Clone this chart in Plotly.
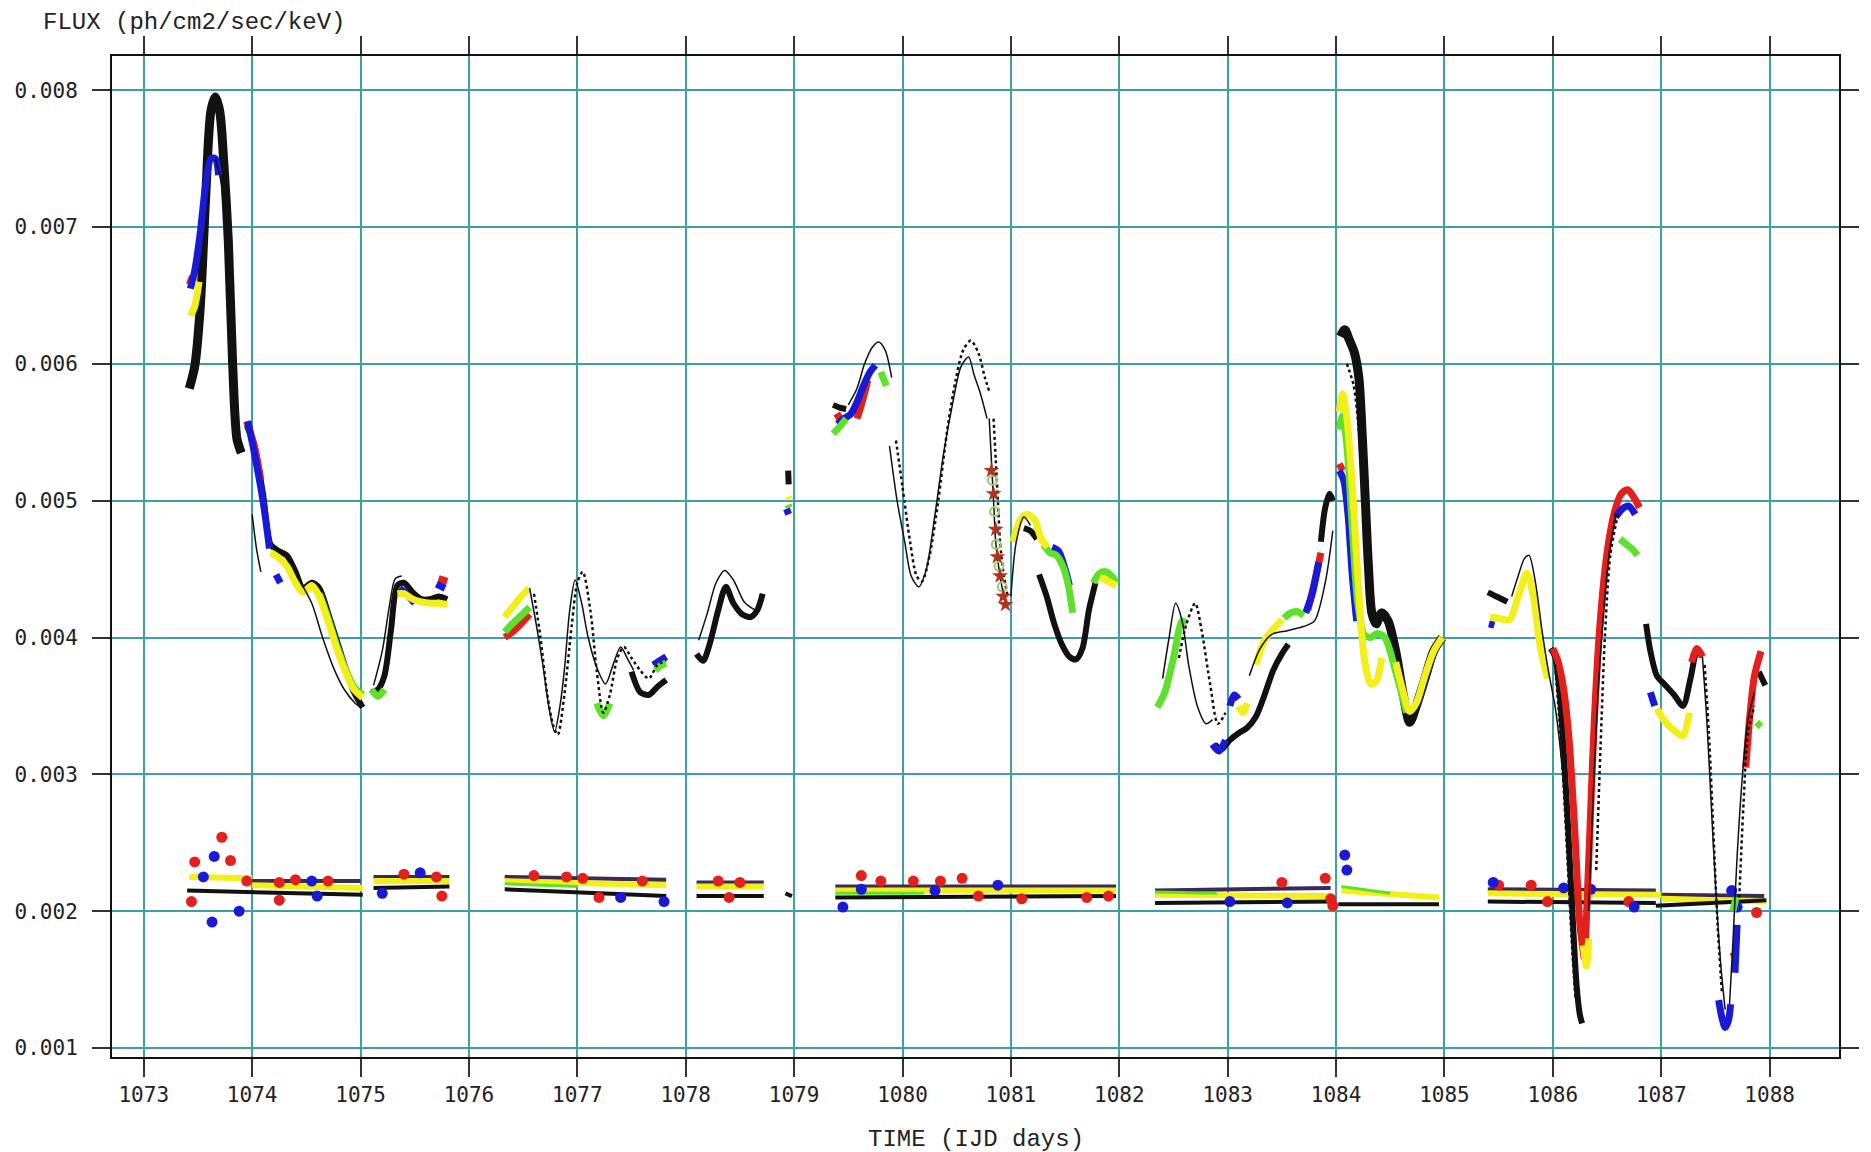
import plotly.graph_objects as go

# ---------------- axes ----------------
x_ticks = list(range(1073, 1089))
y_ticks = [0.001, 0.002, 0.003, 0.004, 0.005, 0.006, 0.007, 0.008]
y_tick_text = ["0.001", "0.002", "0.003", "0.004", "0.005", "0.006", "0.007", "0.008"]
x_range = [1072.707, 1088.64]
y_range = [0.000934, 0.00825]

# ---------------- upper light-curve tracks (time [IJD], flux) ----------------
black_peak_tracks = [
    [(1073.42, 0.00582), (1073.47, 0.00598), (1073.52, 0.00640), (1073.57, 0.00720), (1073.62, 0.00785),
     (1073.66, 0.00795), (1073.70, 0.00785), (1073.74, 0.00745), (1073.78, 0.00690), (1073.82, 0.00600),
     (1073.86, 0.00545), (1073.90, 0.00535)],
    [(1084.04, 0.00620), (1084.08, 0.00625), (1084.12, 0.00618), (1084.17, 0.00608), (1084.21, 0.00590),
     (1084.24, 0.00550), (1084.27, 0.00500), (1084.30, 0.00450), (1084.33, 0.00418), (1084.37, 0.00410),
     (1084.42, 0.00418), (1084.48, 0.00412), (1084.55, 0.00390), (1084.62, 0.00358), (1084.68, 0.00338),
     (1084.74, 0.00350), (1084.82, 0.00370), (1084.90, 0.00390), (1084.98, 0.00400)],
]

black_tracks = [
    [(1073.95, 0.00555), (1074.02, 0.00540), (1074.10, 0.00505), (1074.17, 0.00468), (1074.25, 0.00463),
     (1074.32, 0.00460), (1074.40, 0.00448), (1074.47, 0.00436), (1074.55, 0.00440), (1074.62, 0.00436),
     (1074.70, 0.00418), (1074.78, 0.00398), (1074.86, 0.00378), (1074.94, 0.00360), (1075.02, 0.00349)],
    [(1075.10, 0.00360), (1075.16, 0.00362), (1075.22, 0.00372), (1075.28, 0.00405), (1075.34, 0.00438),
     (1075.40, 0.00440), (1075.48, 0.00433), (1075.56, 0.00428), (1075.64, 0.00428), (1075.72, 0.00430),
     (1075.80, 0.00428)],
    [(1077.50, 0.00375), (1077.58, 0.00360), (1077.66, 0.00358), (1077.74, 0.00364), (1077.82, 0.00369)],
    [(1078.10, 0.00388), (1078.16, 0.00383), (1078.22, 0.00395), (1078.30, 0.00420), (1078.37, 0.00437),
     (1078.44, 0.00425), (1078.52, 0.00417), (1078.60, 0.00415), (1078.66, 0.00420), (1078.71, 0.00432)],
    [(1078.945, 0.00522), (1078.95, 0.00512)],
    [(1079.36, 0.00570), (1079.42, 0.00568), (1079.48, 0.00567)],
    [(1081.12, 0.00480), (1081.18, 0.00478), (1081.24, 0.00472)],
    [(1081.26, 0.00446), (1081.33, 0.00430), (1081.40, 0.00410), (1081.47, 0.00395), (1081.54, 0.00386),
     (1081.60, 0.00384), (1081.66, 0.00392), (1081.72, 0.00420), (1081.78, 0.00440)],
    [(1082.88, 0.00322), (1082.94, 0.00318), (1083.02, 0.00325), (1083.10, 0.00330), (1083.18, 0.00334),
     (1083.26, 0.00342), (1083.34, 0.00358), (1083.42, 0.00376), (1083.50, 0.00388), (1083.56, 0.00395)],
    [(1083.86, 0.00470), (1083.90, 0.00495), (1083.94, 0.00505), (1083.97, 0.00500)],
    [(1085.40, 0.00433), (1085.48, 0.00430), (1085.58, 0.00426)],
    [(1085.98, 0.00392), (1086.02, 0.00386), (1086.06, 0.00362), (1086.10, 0.00318), (1086.14, 0.00262),
     (1086.18, 0.00200), (1086.22, 0.00145), (1086.25, 0.00124), (1086.27, 0.00118)],
    [(1086.86, 0.00410), (1086.90, 0.00390), (1086.96, 0.00372), (1087.04, 0.00365), (1087.12, 0.00358),
     (1087.20, 0.00350), (1087.27, 0.00370), (1087.33, 0.00390), (1087.38, 0.00386)],
    [(1087.90, 0.00375), (1087.96, 0.00365)],
]

red_tracks = [
    [(1073.42, 0.00658), (1073.45, 0.00664)],
    [(1073.95, 0.00558), (1074.02, 0.00540), (1074.08, 0.00515)],
    [(1075.72, 0.00443), (1075.80, 0.00441)],
    [(1076.33, 0.00400), (1076.40, 0.00404), (1076.48, 0.00410), (1076.56, 0.00417)],
    [(1079.38, 0.00560), (1079.44, 0.00563)],
    [(1079.58, 0.00560), (1079.62, 0.00570), (1079.68, 0.00588)],
    [(1083.74, 0.00420), (1083.80, 0.00440), (1083.86, 0.00462)],
    [(1084.03, 0.00527), (1084.06, 0.00522)],
    [(1086.00, 0.00392), (1086.05, 0.00382), (1086.10, 0.00362), (1086.15, 0.00325), (1086.20, 0.00262),
     (1086.25, 0.00190), (1086.29, 0.00165)],
    [(1086.30, 0.00175), (1086.34, 0.00255), (1086.38, 0.00335), (1086.43, 0.00405), (1086.50, 0.00462),
     (1086.57, 0.00492), (1086.63, 0.00505), (1086.69, 0.00508), (1086.75, 0.00502), (1086.80, 0.00495)],
    [(1087.28, 0.00382), (1087.33, 0.00392), (1087.38, 0.00386)],
    [(1087.66, 0.00170), (1087.69, 0.00165)],
    [(1087.78, 0.00305), (1087.82, 0.00345), (1087.86, 0.00372), (1087.92, 0.00390)],
]

blue_tracks = [
    [(1073.43, 0.00655), (1073.47, 0.00668), (1073.52, 0.00695), (1073.57, 0.00730), (1073.62, 0.00750),
     (1073.66, 0.00750), (1073.69, 0.00738)],
    [(1073.96, 0.00558), (1074.02, 0.00535), (1074.10, 0.00500), (1074.16, 0.00465)],
    [(1074.22, 0.00446), (1074.26, 0.00440)],
    [(1075.36, 0.00436), (1075.42, 0.00432), (1075.50, 0.00425)],
    [(1075.70, 0.00439), (1075.78, 0.00436)],
    [(1077.70, 0.00380), (1077.76, 0.00383), (1077.82, 0.00386)],
    [(1078.93, 0.00494), (1078.95, 0.00490)],
    [(1079.40, 0.00556), (1079.46, 0.00560), (1079.52, 0.00563), (1079.58, 0.00572), (1079.64, 0.00584),
     (1079.70, 0.00594), (1079.75, 0.00599)],
    [(1081.38, 0.00466), (1081.44, 0.00463), (1081.50, 0.00450), (1081.54, 0.00438)],
    [(1082.86, 0.00322), (1082.92, 0.00317), (1082.98, 0.00325)],
    [(1083.02, 0.00350), (1083.06, 0.00358), (1083.10, 0.00355)],
    [(1083.72, 0.00418), (1083.78, 0.00432), (1083.84, 0.00455)],
    [(1084.03, 0.00522), (1084.07, 0.00515), (1084.11, 0.00490), (1084.15, 0.00445), (1084.19, 0.00412)],
    [(1085.41, 0.00410), (1085.46, 0.00409)],
    [(1086.58, 0.00488), (1086.64, 0.00494), (1086.70, 0.00496), (1086.76, 0.00490)],
    [(1086.90, 0.00360), (1086.94, 0.00350)],
    [(1087.53, 0.00135), (1087.56, 0.00122), (1087.59, 0.00115), (1087.62, 0.00120), (1087.64, 0.00132)],
    [(1087.68, 0.00155), (1087.70, 0.00190)],
]

green_tracks = [
    [(1074.62, 0.00432), (1074.70, 0.00414), (1074.78, 0.00394), (1074.86, 0.00377), (1074.94, 0.00364),
     (1075.02, 0.00358)],
    [(1075.10, 0.00362), (1075.16, 0.00357), (1075.22, 0.00362)],
    [(1076.33, 0.00404), (1076.40, 0.00410), (1076.48, 0.00416), (1076.56, 0.00422)],
    [(1077.18, 0.00352), (1077.24, 0.00343), (1077.30, 0.00352)],
    [(1077.72, 0.00376), (1077.78, 0.00380), (1077.82, 0.00381)],
    [(1078.945, 0.00497), (1078.955, 0.00495)],
    [(1079.36, 0.00549), (1079.42, 0.00554), (1079.48, 0.00560)],
    [(1079.80, 0.00594), (1079.85, 0.00584)],
    [(1081.30, 0.00468), (1081.36, 0.00462), (1081.42, 0.00460), (1081.48, 0.00452), (1081.53, 0.00438),
     (1081.57, 0.00418)],
    [(1081.76, 0.00440), (1081.82, 0.00447), (1081.88, 0.00448), (1081.94, 0.00444), (1081.97, 0.00440)],
    [(1082.35, 0.00349), (1082.42, 0.00360), (1082.50, 0.00385), (1082.58, 0.00412), (1082.62, 0.00410)],
    [(1083.52, 0.00414), (1083.58, 0.00418), (1083.64, 0.00419), (1083.70, 0.00416)],
    [(1084.03, 0.00552), (1084.06, 0.00562), (1084.10, 0.00540), (1084.15, 0.00480), (1084.20, 0.00425),
     (1084.26, 0.00402), (1084.32, 0.00400), (1084.38, 0.00403), (1084.45, 0.00400), (1084.55, 0.00375),
     (1084.65, 0.00345)],
    [(1086.62, 0.00472), (1086.68, 0.00468), (1086.74, 0.00464), (1086.78, 0.00460)],
    [(1087.66, 0.00200), (1087.69, 0.00210)],
    [(1087.88, 0.00338), (1087.92, 0.00335)],
]

yellow_tracks = [
    [(1073.43, 0.00635), (1073.47, 0.00642), (1073.51, 0.00660)],
    [(1074.17, 0.00462), (1074.25, 0.00458), (1074.32, 0.00452), (1074.40, 0.00440), (1074.47, 0.00433),
     (1074.55, 0.00438), (1074.62, 0.00430), (1074.70, 0.00412), (1074.78, 0.00392), (1074.86, 0.00375),
     (1074.94, 0.00362), (1075.02, 0.00356)],
    [(1075.34, 0.00432), (1075.40, 0.00432), (1075.48, 0.00428), (1075.56, 0.00426), (1075.64, 0.00425),
     (1075.72, 0.00425), (1075.80, 0.00424)],
    [(1076.33, 0.00415), (1076.40, 0.00422), (1076.48, 0.00430), (1076.56, 0.00436)],
    [(1078.945, 0.00503), (1078.955, 0.00501)],
    [(1081.02, 0.00470), (1081.08, 0.00485), (1081.15, 0.00490), (1081.22, 0.00486), (1081.28, 0.00472),
     (1081.34, 0.00466)],
    [(1081.82, 0.00444), (1081.90, 0.00441), (1081.97, 0.00438)],
    [(1083.26, 0.00380), (1083.34, 0.00398), (1083.42, 0.00406), (1083.50, 0.00413)],
    [(1083.10, 0.00350), (1083.14, 0.00345), (1083.18, 0.00352)],
    [(1084.03, 0.00565), (1084.06, 0.00578), (1084.10, 0.00560), (1084.15, 0.00510), (1084.20, 0.00445),
     (1084.26, 0.00385), (1084.32, 0.00366), (1084.37, 0.00368), (1084.42, 0.00385)],
    [(1084.55, 0.00382), (1084.62, 0.00360), (1084.68, 0.00346), (1084.74, 0.00352), (1084.82, 0.00372),
     (1084.90, 0.00390), (1084.98, 0.00400)],
    [(1085.42, 0.00415), (1085.50, 0.00414), (1085.60, 0.00413), (1085.68, 0.00430), (1085.76, 0.00447),
     (1085.82, 0.00430), (1085.88, 0.00395), (1085.95, 0.00370)],
    [(1086.28, 0.00175), (1086.31, 0.00160), (1086.33, 0.00180)],
    [(1086.96, 0.00348), (1087.04, 0.00338), (1087.12, 0.00332), (1087.20, 0.00328), (1087.26, 0.00345)],
]

# thin model curves (two time-shifted realisations)
model_a = [
    [(1073.66, 0.00750), (1073.72, 0.00730), (1073.77, 0.00680), (1073.80, 0.00620), (1073.84, 0.00570),
     (1073.87, 0.00540)],
    [(1074.00, 0.00490), (1074.04, 0.00465), (1074.08, 0.00448)],
    [(1074.45, 0.00440), (1074.55, 0.00425), (1074.65, 0.00400), (1074.75, 0.00378), (1074.85, 0.00362),
     (1074.95, 0.00352), (1075.00, 0.00349)],
    [(1075.12, 0.00365), (1075.20, 0.00390), (1075.27, 0.00425), (1075.32, 0.00443), (1075.38, 0.00445)],
    [(1076.56, 0.00436), (1076.62, 0.00410), (1076.68, 0.00381), (1076.74, 0.00348), (1076.79, 0.00331),
     (1076.84, 0.00350), (1076.88, 0.00376), (1076.93, 0.00420), (1076.98, 0.00442), (1077.04, 0.00425),
     (1077.10, 0.00400), (1077.18, 0.00378), (1077.26, 0.00366), (1077.33, 0.00380), (1077.40, 0.00393),
     (1077.46, 0.00385), (1077.52, 0.00376)],
    [(1078.12, 0.00398), (1078.20, 0.00418), (1078.28, 0.00440), (1078.36, 0.00449), (1078.44, 0.00442),
     (1078.54, 0.00426), (1078.64, 0.00420)],
    [(1079.50, 0.00570), (1079.58, 0.00582), (1079.65, 0.00600), (1079.72, 0.00612), (1079.78, 0.00616),
     (1079.84, 0.00610), (1079.90, 0.00590)],
    [(1079.88, 0.00540), (1079.95, 0.00500), (1080.02, 0.00470), (1080.08, 0.00445), (1080.15, 0.00437),
     (1080.22, 0.00450), (1080.30, 0.00490), (1080.38, 0.00535), (1080.46, 0.00570), (1080.54, 0.00598),
     (1080.61, 0.00605), (1080.66, 0.00592), (1080.72, 0.00578), (1080.78, 0.00560)],
    [(1080.80, 0.00560), (1080.82, 0.00530), (1080.84, 0.00500), (1080.86, 0.00470), (1080.89, 0.00450),
     (1080.93, 0.00432), (1080.96, 0.00422)],
    [(1081.00, 0.00430), (1081.05, 0.00470), (1081.12, 0.00488), (1081.18, 0.00482)],
    [(1082.40, 0.00370), (1082.46, 0.00400), (1082.52, 0.00425), (1082.58, 0.00412), (1082.64, 0.00380),
     (1082.72, 0.00350), (1082.80, 0.00337), (1082.86, 0.00340)],
    [(1083.20, 0.00372), (1083.30, 0.00392), (1083.40, 0.00402), (1083.55, 0.00405), (1083.70, 0.00408),
     (1083.80, 0.00412), (1083.90, 0.00440), (1083.97, 0.00478)],
    [(1085.62, 0.00430), (1085.68, 0.00445), (1085.74, 0.00458), (1085.78, 0.00460), (1085.84, 0.00440),
     (1085.90, 0.00405), (1085.96, 0.00375), (1086.02, 0.00350), (1086.08, 0.00310), (1086.13, 0.00262),
     (1086.18, 0.00200), (1086.22, 0.00150)],
    [(1086.33, 0.00200), (1086.37, 0.00280), (1086.41, 0.00350), (1086.46, 0.00410), (1086.52, 0.00462),
     (1086.58, 0.00490)],
    [(1087.38, 0.00386), (1087.42, 0.00340), (1087.46, 0.00280), (1087.50, 0.00220), (1087.55, 0.00160),
     (1087.59, 0.00128)],
    [(1087.63, 0.00132), (1087.66, 0.00175), (1087.70, 0.00240), (1087.75, 0.00300), (1087.80, 0.00340),
     (1087.86, 0.00360)],
]

model_b = [
    [(1076.60, 0.00432), (1076.66, 0.00400), (1076.72, 0.00360), (1076.78, 0.00335), (1076.82, 0.00329),
     (1076.88, 0.00358), (1076.95, 0.00410), (1077.00, 0.00440), (1077.05, 0.00448), (1077.12, 0.00420),
     (1077.18, 0.00375), (1077.24, 0.00345), (1077.30, 0.00358), (1077.37, 0.00385), (1077.43, 0.00393),
     (1077.50, 0.00385), (1077.58, 0.00376), (1077.66, 0.00370), (1077.74, 0.00380), (1077.82, 0.00383)],
    [(1079.94, 0.00544), (1080.00, 0.00510), (1080.07, 0.00470), (1080.13, 0.00445), (1080.18, 0.00441),
     (1080.25, 0.00460), (1080.33, 0.00500), (1080.41, 0.00550), (1080.49, 0.00588), (1080.56, 0.00610),
     (1080.63, 0.00617), (1080.70, 0.00608), (1080.76, 0.00590), (1080.80, 0.00580)],
    [(1080.84, 0.00560), (1080.86, 0.00530), (1080.88, 0.00500), (1080.90, 0.00470), (1080.93, 0.00448),
     (1080.97, 0.00430)],
    [(1082.55, 0.00385), (1082.62, 0.00410), (1082.70, 0.00425), (1082.76, 0.00405), (1082.84, 0.00365),
     (1082.91, 0.00337), (1082.98, 0.00345)],
    [(1084.10, 0.00600), (1084.16, 0.00585), (1084.20, 0.00560), (1084.24, 0.00515), (1084.28, 0.00460),
     (1084.32, 0.00420)],
    [(1086.02, 0.00380), (1086.06, 0.00340), (1086.10, 0.00290), (1086.14, 0.00230), (1086.18, 0.00170),
     (1086.21, 0.00135)],
    [(1086.40, 0.00230), (1086.44, 0.00320), (1086.48, 0.00400), (1086.53, 0.00460), (1086.60, 0.00490)],
    [(1087.40, 0.00380), (1087.44, 0.00330), (1087.48, 0.00260), (1087.52, 0.00190), (1087.56, 0.00140)],
    [(1087.72, 0.00210), (1087.76, 0.00280), (1087.80, 0.00330), (1087.86, 0.00350)],
]

# model points flagged during the 1080.8-1081.0 descent
star_t = [1080.82, 1080.84, 1080.86, 1080.875, 1080.90, 1080.93, 1080.95]
star_f = [0.00522, 0.00505, 0.00479, 0.00459, 0.00445, 0.00430, 0.00424]
ring_t = [1080.83, 1080.85, 1080.865, 1080.89, 1080.92]
ring_f = [0.00515, 0.00492, 0.00468, 0.00452, 0.00437]

# ---------------- lower (background) band near 0.002 ----------------
band_black = [
    [(1073.40, 0.00215), (1075.02, 0.00212)],
    [(1075.12, 0.00217), (1075.82, 0.00218)],
    [(1076.33, 0.00216), (1077.82, 0.00211)],
    [(1078.10, 0.00211), (1078.72, 0.00211)],
    [(1078.92, 0.00213), (1078.98, 0.00211)],
    [(1079.38, 0.00210), (1081.97, 0.00211)],
    [(1082.33, 0.00206), (1084.00, 0.00207)],
    [(1084.02, 0.00205), (1084.95, 0.00205)],
    [(1085.40, 0.00207), (1086.95, 0.00206)],
    [(1086.95, 0.00204), (1087.97, 0.00208)],
]
band_dark_top = [
    [(1073.95, 0.00222), (1075.00, 0.00222)],
    [(1075.12, 0.00225), (1075.82, 0.00225)],
    [(1076.33, 0.00225), (1077.82, 0.00223)],
    [(1078.10, 0.00221), (1078.72, 0.00221)],
    [(1079.38, 0.00218), (1081.97, 0.00218)],
    [(1082.33, 0.00215), (1083.95, 0.00217)],
    [(1085.40, 0.00216), (1086.95, 0.00215)],
    [(1087.00, 0.00212), (1087.95, 0.00211)],
]
band_yellow = [
    [(1073.42, 0.00225), (1074.00, 0.00224)],
    [(1074.00, 0.00219), (1075.02, 0.00217)],
    [(1075.12, 0.00222), (1075.82, 0.00222)],
    [(1076.33, 0.00222), (1077.82, 0.00219)],
    [(1078.10, 0.00218), (1078.72, 0.00218)],
    [(1079.38, 0.00215), (1081.97, 0.00215)],
    [(1082.33, 0.00212), (1083.95, 0.00211)],
    [(1084.05, 0.00215), (1084.95, 0.00210)],
    [(1085.40, 0.00213), (1087.00, 0.00212)],
    [(1087.00, 0.00209), (1087.97, 0.00207)],
]
band_green = [
    [(1076.33, 0.00220), (1077.00, 0.00218)],
    [(1079.38, 0.00213), (1080.20, 0.00213)],
    [(1082.33, 0.00214), (1082.90, 0.00213)],
    [(1084.05, 0.00218), (1084.50, 0.00213)],
]
red_dot_t = [1073.47, 1073.72, 1073.80, 1073.44, 1073.95, 1074.25, 1074.40, 1074.70, 1074.25, 1075.40,
             1075.70, 1075.75, 1076.60, 1076.90, 1077.05, 1077.20, 1077.60, 1078.30, 1078.50, 1078.40,
             1079.62, 1079.80, 1080.10, 1080.35, 1080.55, 1080.70, 1081.10, 1081.70, 1081.90, 1083.50,
             1083.95, 1083.90, 1083.97, 1085.50, 1085.80, 1085.95, 1086.20, 1086.70, 1087.88]
red_dot_f = [0.00236, 0.00254, 0.00237, 0.00207, 0.00222, 0.00221, 0.00223, 0.00222, 0.00208, 0.00227,
             0.00225, 0.00211, 0.00226, 0.00225, 0.00224, 0.00210, 0.00222, 0.00222, 0.00221, 0.00210,
             0.00226, 0.00222, 0.00222, 0.00222, 0.00224, 0.00211, 0.00209, 0.00210, 0.00211, 0.00221,
             0.00209, 0.00224, 0.00204, 0.00219, 0.00219, 0.00207, 0.00210, 0.00207, 0.00199]
blue_dot_t = [1073.63, 1073.65, 1073.88, 1073.55, 1074.55, 1074.60, 1075.20, 1075.55, 1077.40, 1077.80,
              1079.45, 1079.62, 1080.30, 1080.88, 1083.02, 1083.55, 1084.08, 1084.10, 1085.45, 1086.10,
              1086.35, 1086.75, 1087.65, 1087.70]
blue_dot_f = [0.00192, 0.00240, 0.00200, 0.00225, 0.00222, 0.00211, 0.00213, 0.00228, 0.00210, 0.00207,
              0.00203, 0.00216, 0.00215, 0.00219, 0.00207, 0.00206, 0.00241, 0.00230, 0.00221, 0.00217,
              0.00216, 0.00203, 0.00215, 0.00203]

RED = "#e3201c"
BLUE = "#1a1ad6"
GREEN = "#5fe02c"
YELLOW = "#f2ef1a"
BLACK = "#111111"
GRID = "#3f9ea6"

fig = go.Figure()


def join(tracks):
    xs, ys = [], []
    for seg in tracks:
        for t, f in seg:
            xs.append(t)
            ys.append(f)
        xs.append(None)
        ys.append(None)
    return xs, ys


def add_tracks(tracks, color, width, dash="solid", shape="spline"):
    xs, ys = join(tracks)
    fig.add_trace(go.Scatter(x=xs, y=ys, mode="lines", connectgaps=False,
                             line=dict(color=color, width=width, dash=dash, shape=shape, smoothing=0.8),
                             hoverinfo="skip", showlegend=False))


# lower band
add_tracks(band_dark_top, "#3a2a55", 4, shape="linear")
add_tracks(band_yellow, YELLOW, 6, shape="linear")
add_tracks(band_green, GREEN, 3, shape="linear")
add_tracks(band_black, BLACK, 4, shape="linear")
fig.add_trace(go.Scatter(x=red_dot_t, y=red_dot_f, mode="markers",
                         marker=dict(color=RED, size=11), hoverinfo="skip", showlegend=False))
fig.add_trace(go.Scatter(x=blue_dot_t, y=blue_dot_f, mode="markers",
                         marker=dict(color=BLUE, size=11), hoverinfo="skip", showlegend=False))

# upper light curves
add_tracks(black_peak_tracks, BLACK, 9)
add_tracks(black_tracks, BLACK, 6)
add_tracks(red_tracks, RED, 7)
add_tracks(blue_tracks, BLUE, 7)
add_tracks(green_tracks, GREEN, 7)
add_tracks(yellow_tracks, YELLOW, 7)
add_tracks(model_a, BLACK, 1.5)
add_tracks(model_b, BLACK, 2.5, dash="dot")

fig.add_trace(go.Scatter(x=ring_t, y=ring_f, mode="markers",
                         marker=dict(symbol="circle-open", color="#9cc86a", size=9, line=dict(width=2)),
                         hoverinfo="skip", showlegend=False))
fig.add_trace(go.Scatter(x=star_t, y=star_f, mode="markers",
                         marker=dict(symbol="star", color="#b0331d", size=12),
                         hoverinfo="skip", showlegend=False))

axis_common = dict(showline=True, linecolor="#111111", linewidth=2, mirror="ticks",
                   ticks="outside", tickcolor="#333333", tickwidth=2, ticklen=18,
                   showgrid=True, gridcolor=GRID, gridwidth=2, zeroline=False,
                   tickfont=dict(family="DejaVu Sans Mono", size=21, color="#222222"))

fig.update_xaxes(range=x_range, tickmode="array", tickvals=x_ticks,
                 ticktext=[str(v) for v in x_ticks], **axis_common)
fig.update_yaxes(range=y_range, tickmode="array", tickvals=y_ticks, ticktext=y_tick_text,
                 ticklabelstandoff=10, **axis_common)

fig.update_layout(
    width=1871, height=1152,
    margin=dict(l=112, r=19, t=56, b=95),
    paper_bgcolor="white", plot_bgcolor="white",
    showlegend=False,
    annotations=[
        dict(text="FLUX (ph/cm2/sec/keV)", xref="paper", yref="paper", x=-0.041, y=1.0,
             yshift=34, xanchor="left", yanchor="middle", showarrow=False,
             font=dict(family="Liberation Mono", size=24, color="#222222")),
        dict(text="TIME (IJD days)", xref="paper", yref="paper", x=0.5, y=0.0,
             yshift=-82, xanchor="center", yanchor="middle", showarrow=False,
             font=dict(family="Liberation Mono", size=24, color="#222222")),
    ],
)

fig.write_html("out.html")
